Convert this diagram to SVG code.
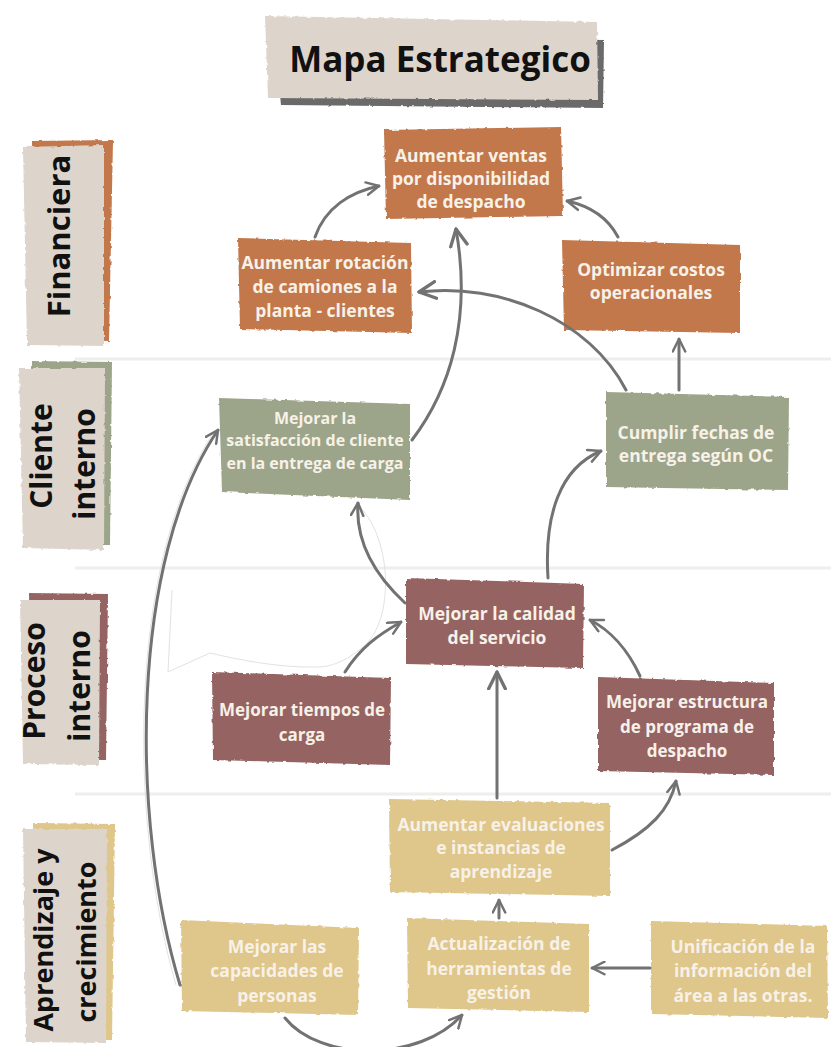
<svg xmlns="http://www.w3.org/2000/svg" width="831" height="1047" viewBox="0 0 831 1047">
<defs>
<style>
.nt{font-family:"Open Sans","Liberation Sans",sans-serif;font-weight:700;font-size:17.5px;fill:#f7f1e8;text-anchor:middle}
.lt{font-family:"Open Sans","Liberation Sans",sans-serif;font-weight:700;font-size:30px;fill:#111;text-anchor:middle}
.or{fill:#c2784b}.gr{fill:#9ca589}.mr{fill:#966463}.yl{fill:#dfc68a}.bg{fill:#ddd5cb}
.sep{stroke:#eeeeec;stroke-width:3;fill:none}
.cn{fill:none;stroke:#727272;stroke-width:3;stroke-linecap:round}
.faint{fill:none;stroke:#e2e2e2;stroke-width:1}
</style>
<filter id="rough" x="-5%" y="-5%" width="110%" height="110%">
<feTurbulence type="fractalNoise" baseFrequency="0.18" numOctaves="2" seed="4"/>
<feDisplacementMap in="SourceGraphic" scale="3" xChannelSelector="R" yChannelSelector="G"/>
</filter>
<marker id="ah" viewBox="0 0 12 12" refX="11" refY="6" markerWidth="15" markerHeight="15" markerUnits="userSpaceOnUse" orient="auto">
<path d="M1,1 L11,6 L1,11" fill="none" stroke="#727272" stroke-width="2" stroke-linecap="round" stroke-linejoin="round"/>
</marker>
<marker id="ahL" viewBox="0 0 12 12" refX="11" refY="6" markerWidth="20" markerHeight="20" markerUnits="userSpaceOnUse" orient="auto">
<path d="M1,1 L11,6 L1,11" fill="none" stroke="#727272" stroke-width="2" stroke-linecap="round" stroke-linejoin="round"/>
</marker>
</defs>

<rect width="831" height="1047" fill="#ffffff"/>

<g id="separators">
<line class="sep" x1="75" y1="359" x2="831" y2="359"/>
<line class="sep" x1="75" y1="568" x2="831" y2="568"/>
<line class="sep" x1="75" y1="794" x2="831" y2="794"/>
</g>

<g id="title">
<path d="M274,34 L604,40 L603,108 L281,105 Z" fill="#6a6a6a" filter="url(#rough)"/>
<path d="M265,16 L597,22 L598,100 L268,98 Z" class="bg" filter="url(#rough)"/>
<text x="440" y="72" font-family="'Open Sans','Liberation Sans',sans-serif" font-weight="700" font-size="35" fill="#111" text-anchor="middle">Mapa Estrategico</text>
</g>

<g id="lane-financiera">
<path d="M32,141 L113,140 L109,341 L34,340 Z" class="or" filter="url(#rough)"/>
<path d="M23,147 L104,145 L104,346 L27,345 Z" class="bg" filter="url(#rough)"/>
<text class="lt" style="font-size:31px" transform="translate(70,236) rotate(-90)">Financiera</text>
</g>

<g id="lane-cliente">
<path d="M31,361 L112,362 L110,545 L33,545 Z" class="gr" filter="url(#rough)"/>
<path d="M19,368 L105,368 L104,550 L23,548 Z" class="bg" filter="url(#rough)"/>
<text class="lt" transform="translate(52,456) rotate(-90)">Cliente</text>
<text class="lt" transform="translate(95,464) rotate(-90)">interno</text>
</g>

<g id="lane-proceso">
<path d="M29,593 L108,594 L106,760 L31,760 Z" class="mr" filter="url(#rough)"/>
<path d="M20,600 L100,600 L99,765 L23,764 Z" class="bg" filter="url(#rough)"/>
<text class="lt" transform="translate(45,681) rotate(-90)">Proceso</text>
<text class="lt" transform="translate(90,686) rotate(-90)">interno</text>
</g>

<g id="lane-aprendizaje">
<path d="M33,823 L115,824 L112,1040 L35,1040 Z" class="yl" filter="url(#rough)"/>
<path d="M23,829 L107,829 L106,1043 L26,1042 Z" class="bg" filter="url(#rough)"/>
<text class="lt" style="font-size:27px" transform="translate(53,940) rotate(-90)">Aprendizaje y</text>
<text class="lt" style="font-size:27px" transform="translate(96,942) rotate(-90)">crecimiento</text>
</g>

<g id="node-aumentar-ventas">
<path d="M384,130 L561,127 L563,216 L386,219 Z" class="or" filter="url(#rough)"/>
<text class="nt" x="471" y="162">Aumentar ventas</text>
<text class="nt" x="471" y="185">por disponibilidad</text>
<text class="nt" x="471" y="208">de despacho</text>
</g>

<g id="node-aumentar-rotacion">
<path d="M238,238 L411,243 L412,333 L240,329 Z" class="or" filter="url(#rough)"/>
<text class="nt" x="325" y="269">Aumentar rotación</text>
<text class="nt" x="325" y="293">de camiones a la</text>
<text class="nt" x="325" y="317">planta - clientes</text>
</g>

<g id="node-optimizar-costos">
<path d="M562,240 L740,245 L740,333 L564,330 Z" class="or" filter="url(#rough)"/>
<text class="nt" x="651" y="276">Optimizar costos</text>
<text class="nt" x="651" y="299">operacionales</text>
</g>

<g id="node-satisfaccion">
<path d="M219,398 L410,404 L410,500 L222,492 Z" class="gr" filter="url(#rough)"/>
<text class="nt" style="font-size:16px" x="315" y="424">Mejorar la</text>
<text class="nt" style="font-size:16px" x="315" y="446">satisfacción de cliente</text>
<text class="nt" style="font-size:16px" x="315" y="469">en la entrega de carga</text>
</g>

<g id="node-cumplir-fechas">
<path d="M606,392 L789,397 L788,490 L606,487 Z" class="gr" filter="url(#rough)"/>
<text class="nt" x="696" y="439">Cumplir fechas de</text>
<text class="nt" x="696" y="462">entrega según OC</text>
</g>

<g id="node-calidad">
<path d="M406,578 L584,584 L583,668 L406,664 Z" class="mr" filter="url(#rough)"/>
<text class="nt" x="497" y="620">Mejorar la calidad</text>
<text class="nt" x="497" y="644">del servicio</text>
</g>

<g id="node-tiempos">
<path d="M212,672 L391,678 L390,765 L213,760 Z" class="mr" filter="url(#rough)"/>
<text class="nt" style="font-size:17px" x="302" y="716">Mejorar tiempos de</text>
<text class="nt" style="font-size:17px" x="302" y="741">carga</text>
</g>

<g id="node-estructura">
<path d="M598,677 L774,683 L774,775 L598,771 Z" class="mr" filter="url(#rough)"/>
<text class="nt" style="font-size:17px" x="687" y="708">Mejorar estructura</text>
<text class="nt" style="font-size:17px" x="687" y="733">de programa de</text>
<text class="nt" style="font-size:17px" x="687" y="757">despacho</text>
</g>

<g id="node-evaluaciones">
<path d="M389,799 L610,803 L610,896 L390,892 Z" class="yl" filter="url(#rough)"/>
<text class="nt" x="501" y="831">Aumentar evaluaciones</text>
<text class="nt" x="501" y="854">e instancias de</text>
<text class="nt" x="501" y="878">aprendizaje</text>
</g>

<g id="node-capacidades">
<path d="M181,920 L359,928 L358,1015 L182,1011 Z" class="yl" filter="url(#rough)"/>
<text class="nt" x="277" y="953">Mejorar las</text>
<text class="nt" x="277" y="977">capacidades de</text>
<text class="nt" x="277" y="1002">personas</text>
</g>

<g id="node-actualizacion">
<path d="M407,918 L589,924 L589,1012 L408,1008 Z" class="yl" filter="url(#rough)"/>
<text class="nt" x="499" y="950">Actualización de</text>
<text class="nt" x="499" y="975">herramientas de</text>
<text class="nt" x="499" y="999">gestión</text>
</g>

<g id="node-unificacion">
<path d="M651,921 L827,926 L828,1018 L651,1014 Z" class="yl" filter="url(#rough)"/>
<text class="nt" x="743" y="953">Unificación de la</text>
<text class="nt" x="743" y="977">información del</text>
<text class="nt" x="743" y="1002">área a las otras.</text>
</g>

<g id="connectors">
<path class="faint" d="M360,507 C392,540 395,620 363,647 C345,662 330,667 317,667 C280,668 240,660 210,653 L168,672 L172,590"/>
<path class="faint" d="M176,985 C128,820 128,560 214,432"/>
<path class="cn" marker-end="url(#ah)" d="M315,237 C325,208 350,192 379,186"/>
<path class="cn" marker-end="url(#ah)" d="M618,237 C608,218 590,206 567,201"/>
<path class="cn" marker-end="url(#ahL)" d="M412,440 C450,390 472,320 456,229"/>
<path class="cn" marker-end="url(#ahL)" d="M626,390 C590,320 500,282 419,292"/>
<path class="cn" marker-end="url(#ah)" d="M679,390 L679,339"/>
<path class="cn" marker-end="url(#ah)" d="M405,603 C378,578 355,545 358,503"/>
<path class="cn" marker-end="url(#ah)" d="M548,578 C544,515 560,468 601,451"/>
<path class="cn" marker-end="url(#ah)" d="M345,672 C360,648 378,635 401,622"/>
<path class="cn" marker-end="url(#ah)" d="M640,676 C628,650 610,630 590,620"/>
<path class="cn" marker-end="url(#ahL)" d="M497,798 L497,672"/>
<path class="cn" marker-end="url(#ah)" d="M612,850 C650,830 670,810 676,781"/>
<path class="cn" marker-end="url(#ah)" d="M499,918 L499,900"/>
<path class="cn" marker-end="url(#ah)" d="M650,968 L592,968"/>
<path class="cn" marker-end="url(#ah)" d="M285,1018 C320,1062 420,1062 462,1015"/>
<path class="cn" marker-end="url(#ah)" d="M180,985 C130,820 130,560 218,430"/>
</g>
</svg>
